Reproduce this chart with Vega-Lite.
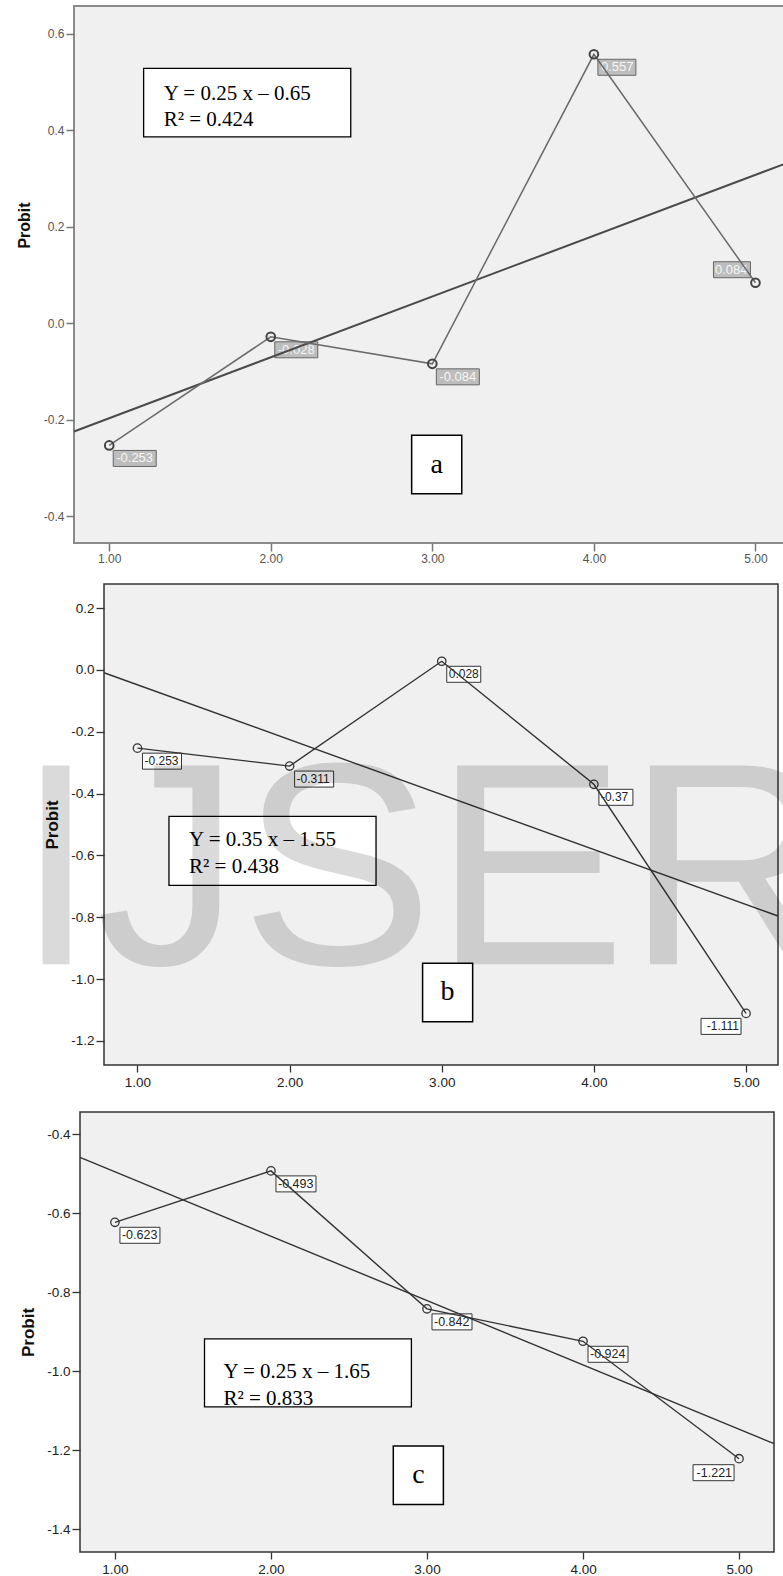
{
  "$schema": "https://vega.github.io/schema/vega-lite/v6.json",
  "background": "white",
  "padding": {"left": 0, "top": 5, "right": 0, "bottom": 0},
  "autosize": {"type": "pad"},
  "datasets": {
    "A": [
      {"x": 1, "y": -0.253, "label": "-0.253"},
      {"x": 2, "y": -0.028, "label": "-0.028"},
      {"x": 3, "y": -0.084, "label": "-0.084"},
      {"x": 4, "y": 0.557, "label": "0.557"},
      {"x": 5, "y": 0.084, "label": "0.084"}
    ],
    "B": [
      {"x": 1, "y": -0.253, "label": "-0.253"},
      {"x": 2, "y": -0.311, "label": "-0.311"},
      {"x": 3, "y": 0.028, "label": "0.028"},
      {"x": 4, "y": -0.37, "label": "-0.37"},
      {"x": 5, "y": -1.111, "label": "-1.111"}
    ],
    "C": [
      {"x": 1, "y": -0.623, "label": "-0.623"},
      {"x": 2, "y": -0.493, "label": "-0.493"},
      {"x": 3, "y": -0.842, "label": "-0.842"},
      {"x": 4, "y": -0.924, "label": "-0.924"},
      {"x": 5, "y": -1.221, "label": "-1.221"}
    ],
    "FA": [{"x": 0.782, "y": -0.224}, {"x": 5.22, "y": 0.335}],
    "FB": [{"x": 0.78, "y": -0.009}, {"x": 5.21, "y": -0.796}],
    "FC": [{"x": 0.776, "y": -0.459}, {"x": 5.224, "y": -1.183}]
  },
  "vconcat": [
    {
      "vconcat": [
        {
          "hconcat": [
            {"width": 15, "height": 1, "data": {"name": "FA"}, "mark": {"type": "rect", "fill": "white"}, "encoding": {}, "view": {"stroke": null}},
            {
              "width": 717, "height": 537,
              "view": {"fill": "#f0f0f0", "stroke": "#8a8a8a", "strokeWidth": 2},
              "encoding": {
                "x": {"field": "x", "type": "quantitative", "scale": {"domain": [0.782, 5.22], "nice": false, "zero": false},
                  "axis": {"title": null, "values": [1, 2, 3, 4, 5], "format": ".2f", "domain": false, "grid": false, "tickSize": 8, "tickColor": "#777", "tickWidth": 1.5, "labelFont": "Liberation Sans", "labelFontSize": 12, "labelColor": "#555", "labelPadding": 2, "labelFlush": false, "labelOverlap": false}},
                "y": {"field": "y", "type": "quantitative", "scale": {"domain": [-0.455, 0.657], "nice": false, "zero": false},
                  "axis": {"title": "Probit", "values": [-0.4, -0.2, 0, 0.2, 0.4, 0.6], "labelExpr": "replace(format(datum.value, '.1f'), '−', '-')", "domain": false, "grid": false, "tickSize": 8, "tickColor": "#777", "tickWidth": 1.5, "labelFont": "Liberation Sans", "labelFontSize": 12, "labelColor": "#555", "labelPadding": 2, "labelFlush": false, "labelOverlap": false, "titleFont": "Liberation Sans", "titleFontSize": 16, "titleFontWeight": "bold", "titleColor": "#111", "titlePadding": 11, "titleY": 219}}
              },
              "layer": [
                {"data": {"name": "A"}, "transform": [{"filter": "datum.x < 5 && length(datum.label) == 6"}],
                  "mark": {"type": "rect", "fill": "#bdbdbd", "stroke": "#666", "strokeWidth": 1, "xOffset": 4, "x2Offset": 47, "yOffset": 5, "y2Offset": 21},
                  "encoding": {"x2": {"field": "x"}, "y2": {"field": "y"}}},
                {"data": {"name": "A"}, "transform": [{"filter": "datum.x < 5 && length(datum.label) == 5"}],
                  "mark": {"type": "rect", "fill": "#bdbdbd", "stroke": "#666", "strokeWidth": 1, "xOffset": 4, "x2Offset": 42, "yOffset": 5, "y2Offset": 21},
                  "encoding": {"x2": {"field": "x"}, "y2": {"field": "y"}}},
                {"data": {"name": "A"}, "transform": [{"filter": "datum.x == 5"}],
                  "mark": {"type": "rect", "fill": "#bdbdbd", "stroke": "#666", "strokeWidth": 1, "xOffset": -42, "x2Offset": -5, "yOffset": -21, "y2Offset": -5},
                  "encoding": {"x2": {"field": "x"}, "y2": {"field": "y"}}},
                {"data": {"name": "A"}, "transform": [{"filter": "datum.x < 5"}],
                  "mark": {"type": "text", "align": "left", "baseline": "middle", "dx": 7, "dy": 13, "font": "Liberation Sans", "fontSize": 13, "color": "#f6f6f6"},
                  "encoding": {"text": {"field": "label"}}},
                {"data": {"name": "A"}, "transform": [{"filter": "datum.x == 5"}],
                  "mark": {"type": "text", "align": "right", "baseline": "middle", "dx": -8, "dy": -13, "font": "Liberation Sans", "fontSize": 13, "color": "#f6f6f6"},
                  "encoding": {"text": {"field": "label"}}},
                {"data": {"name": "FA"}, "mark": {"type": "line", "color": "#4a4a4a", "strokeWidth": 2}},
                {"data": {"name": "A"}, "mark": {"type": "line", "color": "#6a6a6a", "strokeWidth": 1.5}},
                {"data": {"name": "A"}, "mark": {"type": "point", "shape": "circle", "filled": false, "size": 75, "stroke": "#444", "strokeWidth": 2, "opacity": 1}},
                {"data": {"name": "A"}, "transform": [{"filter": "datum.x == 1"}], "mark": {"type": "rect", "fill": "white", "stroke": "#000", "strokeWidth": 1.3},
                  "encoding": {"x": {"datum": 1.213, "type": "quantitative"}, "x2": {"datum": 2.495}, "y": {"datum": 0.528, "type": "quantitative"}, "y2": {"datum": 0.386}}},
                {"data": {"name": "A"}, "transform": [{"filter": "datum.x == 1"}], "mark": {"type": "text", "text": ["Y = 0.25 x – 0.65", "R² = 0.424"], "lineHeight": 26, "align": "left", "baseline": "alphabetic", "font": "Liberation Serif", "fontSize": 21, "color": "#000"},
                  "encoding": {"x": {"datum": 1.337, "type": "quantitative"}, "y": {"datum": 0.462, "type": "quantitative"}}},
                {"data": {"name": "A"}, "transform": [{"filter": "datum.x == 1"}], "mark": {"type": "rect", "fill": "white", "stroke": "#000", "strokeWidth": 1.5},
                  "encoding": {"x": {"datum": 2.872, "type": "quantitative"}, "x2": {"datum": 3.182}, "y": {"datum": -0.232, "type": "quantitative"}, "y2": {"datum": -0.353}}},
                {"data": {"name": "A"}, "transform": [{"filter": "datum.x == 1"}], "mark": {"type": "text", "text": "a", "align": "center", "baseline": "middle", "font": "Liberation Serif", "fontSize": 28, "color": "#000"},
                  "encoding": {"x": {"datum": 3.027, "type": "quantitative"}, "y": {"datum": -0.2925, "type": "quantitative"}}}
              ]
            }
          ],
          "spacing": 0
        },
        {
          "hconcat": [
            {"width": 15, "height": 1, "data": {"name": "FA"}, "mark": {"type": "rect", "fill": "white"}, "encoding": {}, "view": {"stroke": null}},
            {
              "width": 674, "height": 481,
              "view": {"fill": "#f0f0f0", "stroke": "#333", "strokeWidth": 1.5},
              "encoding": {
                "x": {"field": "x", "type": "quantitative", "scale": {"domain": [0.78, 5.21], "nice": false, "zero": false},
                  "axis": {"title": null, "values": [1, 2, 3, 4, 5], "format": ".2f", "domain": false, "grid": false, "tickSize": 7, "tickColor": "#333", "tickWidth": 1.3, "labelFont": "Liberation Sans", "labelFontSize": 13.5, "labelColor": "#222", "labelPadding": 3, "labelFlush": false, "labelOverlap": false}},
                "y": {"field": "y", "type": "quantitative", "scale": {"domain": [-1.278, 0.278], "nice": false, "zero": false},
                  "axis": {"title": "Probit", "values": [-1.2, -1, -0.8, -0.6, -0.4, -0.2, 0, 0.2], "labelExpr": "replace(format(datum.value, '.1f'), '−', '-')", "domain": false, "grid": false, "tickSize": 8, "tickColor": "#333", "tickWidth": 1.3, "labelFont": "Liberation Sans", "labelFontSize": 13.5, "labelColor": "#222", "labelPadding": 2, "labelFlush": false, "labelOverlap": false, "titleFont": "Liberation Sans", "titleFontSize": 17, "titleFontWeight": "bold", "titleColor": "#111", "titlePadding": 9}}
              },
              "layer": [
                {"data": {"name": "B"}, "transform": [{"filter": "datum.x < 5 && length(datum.label) == 6"}],
                  "mark": {"type": "rect", "fill": "white", "stroke": "#333", "strokeWidth": 1, "xOffset": 5, "x2Offset": 44, "yOffset": 5, "y2Offset": 21},
                  "encoding": {"x2": {"field": "x"}, "y2": {"field": "y"}}},
                {"data": {"name": "B"}, "transform": [{"filter": "datum.x < 5 && length(datum.label) == 5"}],
                  "mark": {"type": "rect", "fill": "white", "stroke": "#333", "strokeWidth": 1, "xOffset": 5, "x2Offset": 39, "yOffset": 5, "y2Offset": 21},
                  "encoding": {"x2": {"field": "x"}, "y2": {"field": "y"}}},
                {"data": {"name": "B"}, "transform": [{"filter": "datum.x == 5"}],
                  "mark": {"type": "rect", "fill": "white", "stroke": "#333", "strokeWidth": 1, "xOffset": -45, "x2Offset": -5, "yOffset": 5, "y2Offset": 21},
                  "encoding": {"x2": {"field": "x"}, "y2": {"field": "y"}}},
                {"data": {"name": "B"}, "transform": [{"filter": "datum.x < 5"}],
                  "mark": {"type": "text", "align": "left", "baseline": "middle", "dx": 7, "dy": 13, "font": "Liberation Sans", "fontSize": 12, "color": "#222"},
                  "encoding": {"text": {"field": "label"}}},
                {"data": {"name": "B"}, "transform": [{"filter": "datum.x == 5"}],
                  "mark": {"type": "text", "align": "right", "baseline": "middle", "dx": -7, "dy": 13, "font": "Liberation Sans", "fontSize": 12, "color": "#222"},
                  "encoding": {"text": {"field": "label"}}},
                {"data": {"name": "FB"}, "mark": {"type": "line", "color": "#333", "strokeWidth": 1.4}},
                {"data": {"name": "B"}, "mark": {"type": "line", "color": "#333", "strokeWidth": 1.4}},
                {"data": {"name": "B"}, "mark": {"type": "point", "shape": "circle", "filled": false, "size": 70, "stroke": "#333", "strokeWidth": 1.3, "opacity": 1}},
                {"data": {"name": "B"}, "transform": [{"filter": "datum.x == 1"}], "mark": {"type": "rect", "fill": "white", "stroke": "#000", "strokeWidth": 1.3},
                  "encoding": {"x": {"datum": 1.207, "type": "quantitative"}, "x2": {"datum": 2.568}, "y": {"datum": -0.4735, "type": "quantitative"}, "y2": {"datum": -0.6968}}},
                {"data": {"name": "B"}, "transform": [{"filter": "datum.x == 1"}], "mark": {"type": "text", "text": ["Y = 0.35 x – 1.55", "R² = 0.438"], "lineHeight": 27, "align": "left", "baseline": "alphabetic", "font": "Liberation Serif", "fontSize": 21, "color": "#000"},
                  "encoding": {"x": {"datum": 1.339, "type": "quantitative"}, "y": {"datum": -0.5706, "type": "quantitative"}}},
                {"data": {"name": "B"}, "transform": [{"filter": "datum.x == 1"}], "mark": {"type": "rect", "fill": "white", "stroke": "#000", "strokeWidth": 1.5},
                  "encoding": {"x": {"datum": 2.874, "type": "quantitative"}, "x2": {"datum": 3.203}, "y": {"datum": -0.949, "type": "quantitative"}, "y2": {"datum": -1.138}}},
                {"data": {"name": "B"}, "transform": [{"filter": "datum.x == 1"}], "mark": {"type": "text", "text": "b", "align": "center", "baseline": "middle", "font": "Liberation Serif", "fontSize": 28, "color": "#000"},
                  "encoding": {"x": {"datum": 3.038, "type": "quantitative"}, "y": {"datum": -1.043, "type": "quantitative"}}},
                {"data": {"name": "B"}, "transform": [{"filter": "datum.x == 1"}], "mark": {"type": "text", "text": "IJSER", "align": "left", "baseline": "alphabetic", "font": "Liberation Sans", "fontSize": 289, "color": "#000", "opacity": 0.14},
                  "encoding": {"x": {"datum": 0.201, "type": "quantitative"}, "y": {"datum": -0.952, "type": "quantitative"}}}
              ]
            }
          ],
          "spacing": 0
        }
      ],
      "spacing": 18
    },
    {
      "hconcat": [
        {"width": 18, "height": 1, "data": {"name": "FA"}, "mark": {"type": "rect", "fill": "white"}, "encoding": {}, "view": {"stroke": null}},
        {
          "width": 694, "height": 440,
          "view": {"fill": "#f0f0f0", "stroke": "#333", "strokeWidth": 1.5},
          "encoding": {
            "x": {"field": "x", "type": "quantitative", "scale": {"domain": [0.776, 5.224], "nice": false, "zero": false},
              "axis": {"title": null, "values": [1, 2, 3, 4, 5], "format": ".2f", "domain": false, "grid": false, "tickSize": 7, "tickColor": "#333", "tickWidth": 1.3, "labelFont": "Liberation Sans", "labelFontSize": 13.5, "labelColor": "#222", "labelPadding": 3, "labelFlush": false, "labelOverlap": false}},
            "y": {"field": "y", "type": "quantitative", "scale": {"domain": [-1.457, -0.344], "nice": false, "zero": false},
              "axis": {"title": "Probit", "values": [-1.4, -1.2, -1, -0.8, -0.6, -0.4], "labelExpr": "replace(format(datum.value, '.1f'), '−', '-')", "domain": false, "grid": false, "tickSize": 8, "tickColor": "#333", "tickWidth": 1.3, "labelFont": "Liberation Sans", "labelFontSize": 13.5, "labelColor": "#222", "labelPadding": 2, "labelFlush": false, "labelOverlap": false, "titleFont": "Liberation Sans", "titleFontSize": 17, "titleFontWeight": "bold", "titleColor": "#111", "titlePadding": 9}}
          },
          "layer": [
            {"data": {"name": "C"}, "transform": [{"filter": "datum.x < 5 && length(datum.label) == 6"}],
              "mark": {"type": "rect", "fill": "white", "stroke": "#333", "strokeWidth": 1, "xOffset": 5, "x2Offset": 45, "yOffset": 5, "y2Offset": 21},
              "encoding": {"x2": {"field": "x"}, "y2": {"field": "y"}}},
            {"data": {"name": "C"}, "transform": [{"filter": "datum.x == 5"}],
              "mark": {"type": "rect", "fill": "white", "stroke": "#333", "strokeWidth": 1, "xOffset": -46, "x2Offset": -5, "yOffset": 6, "y2Offset": 22},
              "encoding": {"x2": {"field": "x"}, "y2": {"field": "y"}}},
            {"data": {"name": "C"}, "transform": [{"filter": "datum.x < 5"}],
              "mark": {"type": "text", "align": "left", "baseline": "middle", "dx": 7, "dy": 13, "font": "Liberation Sans", "fontSize": 12.5, "color": "#222"},
              "encoding": {"text": {"field": "label"}}},
            {"data": {"name": "C"}, "transform": [{"filter": "datum.x == 5"}],
              "mark": {"type": "text", "align": "right", "baseline": "middle", "dx": -7, "dy": 14, "font": "Liberation Sans", "fontSize": 12.5, "color": "#222"},
              "encoding": {"text": {"field": "label"}}},
            {"data": {"name": "FC"}, "mark": {"type": "line", "color": "#333", "strokeWidth": 1.4}},
            {"data": {"name": "C"}, "mark": {"type": "line", "color": "#333", "strokeWidth": 1.4}},
            {"data": {"name": "C"}, "mark": {"type": "point", "shape": "circle", "filled": false, "size": 70, "stroke": "#333", "strokeWidth": 1.3, "opacity": 1}},
            {"data": {"name": "C"}, "transform": [{"filter": "datum.x == 1"}], "mark": {"type": "rect", "fill": "white", "stroke": "#000", "strokeWidth": 1.3},
              "encoding": {"x": {"datum": 1.574, "type": "quantitative"}, "x2": {"datum": 2.9}, "y": {"datum": -0.918, "type": "quantitative"}, "y2": {"datum": -1.09}}},
            {"data": {"name": "C"}, "transform": [{"filter": "datum.x == 1"}], "mark": {"type": "text", "text": ["Y = 0.25 x – 1.65", "R² = 0.833"], "lineHeight": 27, "align": "left", "baseline": "alphabetic", "font": "Liberation Serif", "fontSize": 21, "color": "#000"},
              "encoding": {"x": {"datum": 1.695, "type": "quantitative"}, "y": {"datum": -1.0167, "type": "quantitative"}}},
            {"data": {"name": "C"}, "transform": [{"filter": "datum.x == 1"}], "mark": {"type": "rect", "fill": "white", "stroke": "#000", "strokeWidth": 1.5},
              "encoding": {"x": {"datum": 2.784, "type": "quantitative"}, "x2": {"datum": 3.105}, "y": {"datum": -1.189, "type": "quantitative"}, "y2": {"datum": -1.337}}},
            {"data": {"name": "C"}, "transform": [{"filter": "datum.x == 1"}], "mark": {"type": "text", "text": "c", "align": "center", "baseline": "middle", "font": "Liberation Serif", "fontSize": 28, "color": "#000"},
              "encoding": {"x": {"datum": 2.945, "type": "quantitative"}, "y": {"datum": -1.262, "type": "quantitative"}}}
          ]
        }
      ],
      "spacing": 0
    }
  ],
  "spacing": 21
}
